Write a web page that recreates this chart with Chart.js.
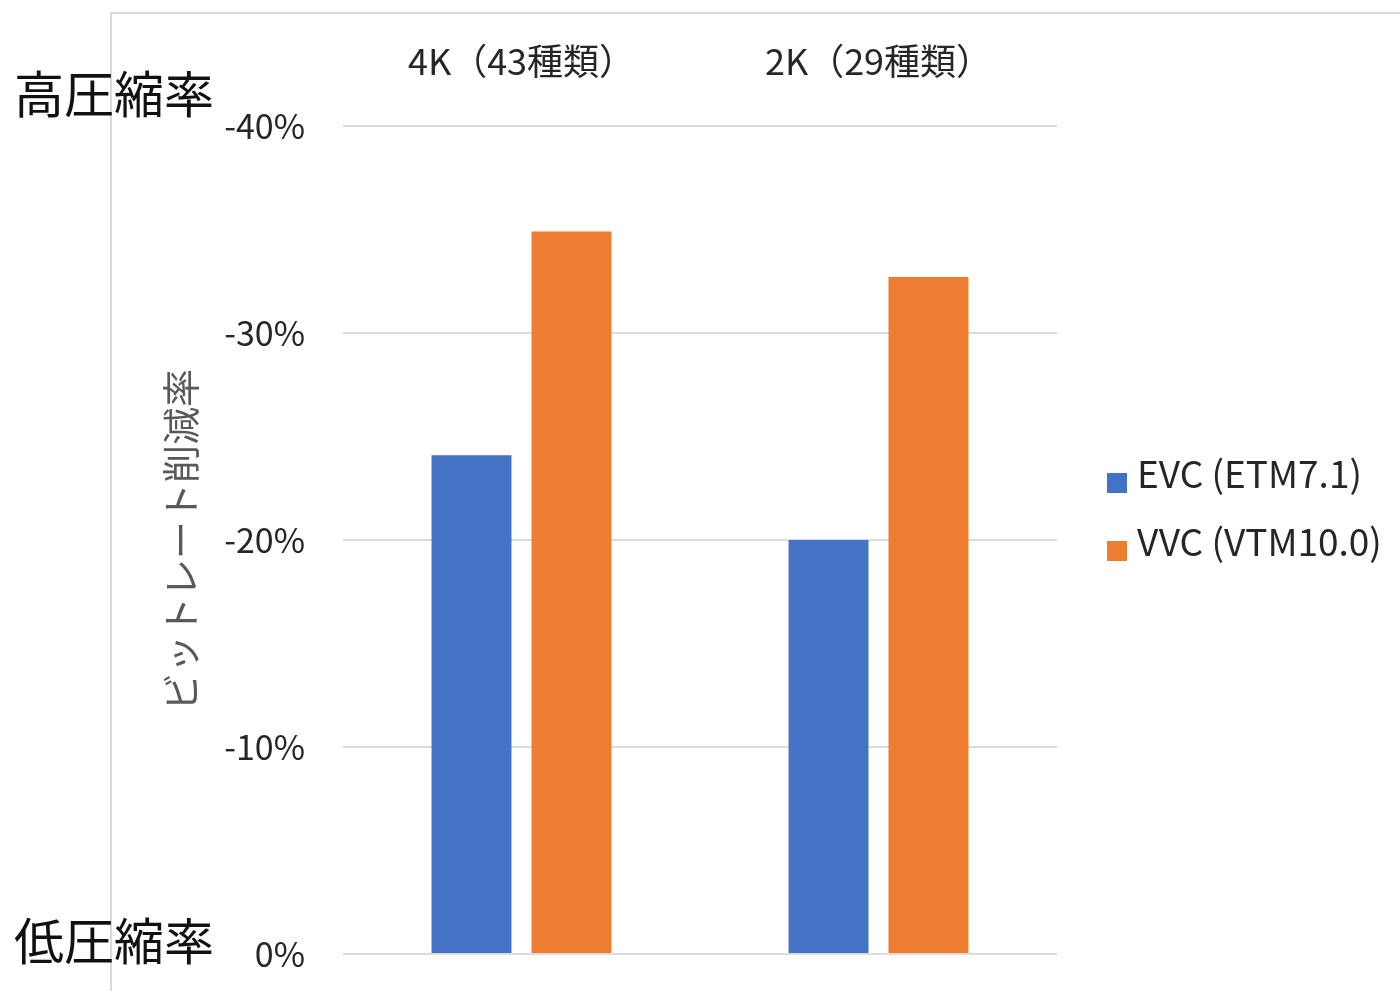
<!DOCTYPE html>
<html lang="ja">
<head>
<meta charset="utf-8">
<title>ビットレート削減率</title>
<script src="https://cdn.jsdelivr.net/npm/chart.js@4.4.1/dist/chart.umd.min.js"></script>
<style>
  html, body { margin: 0; padding: 0; background: #ffffff; }
  body { width: 1400px; height: 991px; position: relative; overflow: hidden;
         font-family: "Noto Sans CJK JP", "Noto Sans", sans-serif; }
  #frame { position: absolute; left: 110px; top: 12px; right: 0; bottom: 0;
           border-top: 2px solid #dadada; border-left: 2px solid #dadada; }
  #chart { position: absolute; left: 0; top: 0; }
  .side { position: absolute; left: 14px; font-size: 50px; line-height: 50px;
          color: #111111; white-space: nowrap; }
  #legend { position: absolute; left: 1107px; top: 438px; }
  .item { font-size: 37px; line-height: 68px; color: #262626; white-space: nowrap; }
  .swatch { display: inline-block; width: 20px; height: 20px; margin-right: 10px;
            vertical-align: -5px; }
</style>
</head>
<body>
<div id="frame"></div>
<canvas id="chart" width="1400" height="991"></canvas>
<div class="side" style="top:66px">高圧縮率</div>
<div class="side" style="top:913px">低圧縮率</div>
<div id="legend"></div>
<script>
// Test sets and their bit-rate reduction (%)
const categories = ["4K（43種類）", "2K（29種類）"];
const seriesNames = ["EVC (ETM7.1)", "VVC (VTM10.0)"];
const evcValues = [-24.1, -20.0];
const vvcValues = [-34.9, -32.7];
const yTicks = [-40, -30, -20, -10, 0];
const axisTitle = "ビットレート削減率";

const colors = ["#4472C4", "#ED7D31"];

Chart.defaults.font.family = '"Noto Sans CJK JP", "Noto Sans", sans-serif';

const chart = new Chart(document.getElementById("chart"), {
  type: "bar",
  data: {
    labels: categories,
    datasets: [
      { label: seriesNames[0], data: evcValues, backgroundColor: colors[0],
        categoryPercentage: 0.56, barPercentage: 0.8 },
      { label: seriesNames[1], data: vvcValues, backgroundColor: colors[1],
        categoryPercentage: 0.56, barPercentage: 0.8 }
    ]
  },
  options: {
    responsive: false,
    animation: false,
    layout: { padding: { left: 0, top: 0, right: 343, bottom: 37 } },
    plugins: { legend: { display: false }, tooltip: { enabled: false } },
    scales: {
      x: {
        position: "top",
        grid: { display: false, drawTicks: false },
        border: { display: false },
        ticks: { color: "#262626", font: { size: 36 }, padding: 43 },
        afterFit: s => { s.height = 126; }
      },
      y: {
        reverse: true,
        min: yTicks[0],
        max: yTicks[yTicks.length - 1],
        afterBuildTicks: s => { s.ticks = yTicks.map(v => ({ value: v })); },
        grid: { color: "#dcdcdc", lineWidth: 2, drawTicks: false },
        border: { display: false },
        ticks: { color: "#262626", font: { size: 34 }, padding: 38,
                 callback: v => v + "%" },
        title: { display: true, text: axisTitle, color: "#595959",
                 font: { size: 38 }, padding: { top: 158, bottom: 0 } },
        afterFit: s => {
          s.width = 343;
          // the outer layout padding already leaves room for the end labels
          s.paddingTop = 0;
          s.paddingBottom = 0;
        }
      }
    }
  }
});

// Legend built from the chart's datasets
const legend = document.getElementById("legend");
chart.data.datasets.forEach(ds => {
  const row = document.createElement("div");
  row.className = "item";
  const sw = document.createElement("span");
  sw.className = "swatch";
  sw.style.background = ds.backgroundColor;
  row.appendChild(sw);
  row.appendChild(document.createTextNode(ds.label));
  legend.appendChild(row);
});
</script>
</body>
</html>
